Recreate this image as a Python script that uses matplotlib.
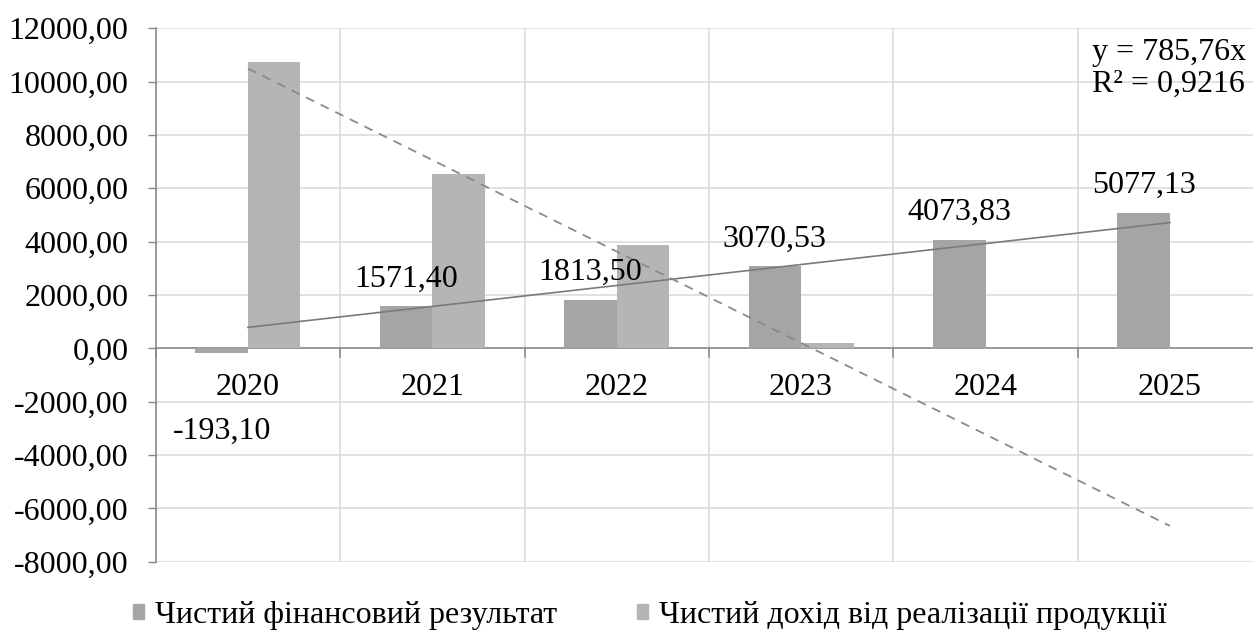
import numpy as np
import matplotlib
matplotlib.use("Agg")
import matplotlib.pyplot as plt
from matplotlib.patches import Patch
from matplotlib.ticker import FuncFormatter, FixedLocator

# ---- data ----
years = ["2020", "2021", "2022", "2023", "2024", "2025"]
net_result = [-193.10, 1571.40, 1813.50, 3070.53, 4073.83, 5077.13]
net_revenue = [10750, 6550, 3875, 210, float("nan"), float("nan")]
series_names = ["Чистий фінансовий результат", "Чистий дохід від реалізації продукції"]
y_ticks = [-8000, -6000, -4000, -2000, 0, 2000, 4000, 6000, 8000, 10000, 12000]

plt.rcParams["font.family"] = ["Liberation Serif", "DejaVu Serif"]
FS = 23
LFS = 23

def fmt(v):
    return f"{v:.2f}".replace(".", ",")

W, H = 1253, 637
fig = plt.figure(figsize=(W / 100, H / 100), dpi=100)
ax = fig.add_axes([155.7 / W, (H - 561.7) / H, 1106.4 / W, 533.4 / H])

x = np.arange(1, len(years) + 1)
bw = 0.285
c1, c2 = "#A5A5A5", "#B5B5B5"
ax.bar(x - bw / 2, net_result, bw, color=c1, zorder=3)
ax.bar(x + bw / 2, net_revenue, bw, color=c2, zorder=3)

# trend line through origin for series 1
y1 = np.array(net_result)
slope = np.sum(x * y1) / np.sum(x * x)
sse = np.sum((y1 - slope * x) ** 2)
sst = np.sum((y1 - y1.mean()) ** 2)
r2 = 1 - sse / sst
ax.plot(x, slope * x, color="#7A7A7A", lw=1.2, zorder=4)

# linear trend for series 2 (fitted on available points)
y2 = np.array(net_revenue, dtype=float)
m = np.isfinite(y2)
k, b = np.polyfit(x[m], y2[m], 1)
ax.plot(x, k * x + b, color="#8A8A8A", lw=1.3, ls=(0, (5, 4)), zorder=4)

# data labels for series 1
for xi, v in zip(x - bw / 2, net_result):
    off = 14.4 if v >= 0 else -61.6
    ax.annotate(fmt(v), (xi, v), xytext=(0, off), textcoords="offset points",
                ha="center", va="baseline", fontsize=FS, zorder=5)

# category labels below zero line
for xi, lab in zip(x, years):
    ax.annotate(lab, (xi, 0), xytext=(0, -33.6), textcoords="offset points",
                ha="center", va="baseline", fontsize=FS)

# equation
fig.text(1091.7 / W, 1 - 60 / H, f"y = {fmt(slope)}x", fontsize=FS, ha="left", va="baseline")
fig.text(1091.7 / W, 1 - 91.7 / H, f"R² = {r2:.4f}".replace(".", ","), fontsize=FS,
         ha="left", va="baseline")

# axes styling
ax.set_xlim(0.5, len(years) + 0.5)
ax.set_ylim(y_ticks[0], y_ticks[-1])
ax.yaxis.set_major_locator(FixedLocator(y_ticks))
ax.yaxis.set_major_formatter(FuncFormatter(lambda v, p: fmt(v)))
ax.tick_params(axis="y", labelsize=FS, length=6, width=1, color="#868686", pad=13.5, direction="out")
ax.set_xticks(np.arange(0.5, len(years) + 1, 1.0))
ax.tick_params(axis="x", length=0, labelbottom=False)
ax.grid(True, color="#D9D9D9", lw=1.1, zorder=0)
for s in ["top", "right", "bottom"]:
    ax.spines[s].set_visible(False)
ax.spines["left"].set_color("#868686")
ax.spines["left"].set_linewidth(1.1)
ax.axhline(0, color="#868686", lw=1.1, zorder=2)
for xb in np.arange(0.5, len(years) + 1, 1.0):
    ax.plot([xb, xb], [0, -320], color="#868686", lw=1.1, zorder=2, clip_on=False)

handles = [Patch(color=c1), Patch(color=c2)]
fig.legend(handles, series_names, loc="lower left", bbox_to_anchor=(120 / W, -0.009),
           ncol=2, frameon=False, fontsize=LFS, handlelength=0.345, handleheight=0.345,
           handletextpad=0.35, columnspacing=2.5, borderaxespad=0.0)

fig.savefig("out.png", dpi=100)
